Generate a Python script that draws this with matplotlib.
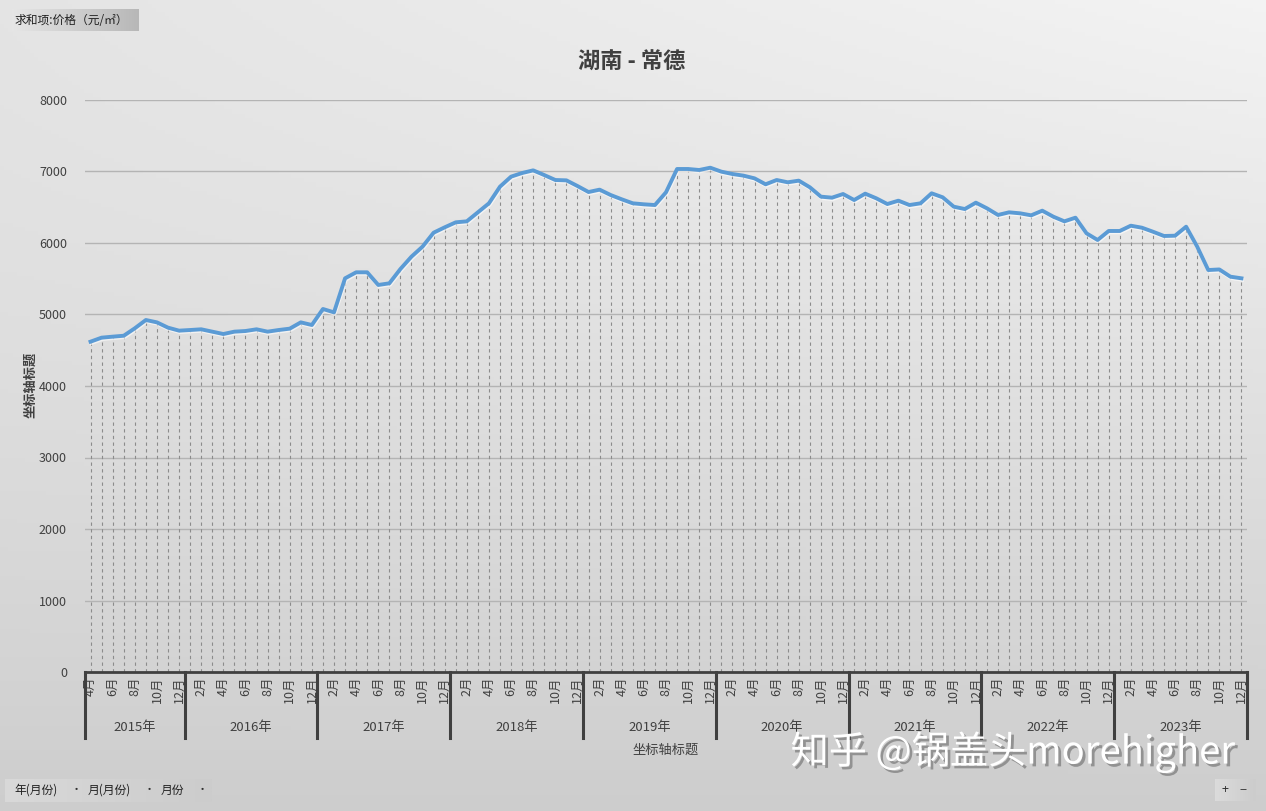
import numpy as np
import matplotlib
matplotlib.use("Agg")
import matplotlib.pyplot as plt
import matplotlib.patheffects as pe
from matplotlib.transforms import blended_transform_factory

plt.rcParams['font.family'] = ['Noto Sans CJK SC', 'DejaVu Sans']

# ---------------- data ----------------
years = ["2015年", "2016年", "2017年", "2018年", "2019年", "2020年", "2021年", "2022年", "2023年"]
months_per_year = [9, 12, 12, 12, 12, 12, 12, 12, 12]
first_month = [4, 1, 1, 1, 1, 1, 1, 1, 1]

price_2015 = [4620, 4676, 4690, 4703, 4807, 4923, 4890, 4816, 4774]
price_2016 = [4783, 4793, 4760, 4727, 4760, 4769, 4793, 4760, 4783, 4802, 4890, 4853]
price_2017 = [5077, 5030, 5506, 5590, 5590, 5413, 5436, 5636, 5809, 5949, 6144, 6219]
price_2018 = [6289, 6303, 6429, 6555, 6788, 6928, 6979, 7016, 6950, 6881, 6876, 6797]
price_2019 = [6713, 6746, 6671, 6611, 6555, 6541, 6531, 6709, 7035, 7035, 7021, 7053]
price_2020 = [6998, 6965, 6942, 6904, 6821, 6881, 6849, 6872, 6779, 6648, 6634, 6685]
price_2021 = [6601, 6690, 6625, 6545, 6592, 6531, 6555, 6695, 6639, 6508, 6475, 6564]
price_2022 = [6485, 6392, 6429, 6415, 6387, 6452, 6368, 6303, 6354, 6135, 6042, 6168]
price_2023 = [6168, 6242, 6214, 6158, 6098, 6102, 6228, 5949, 5622, 5630, 5529, 5506]

yticks = [0, 1000, 2000, 3000, 4000, 5000, 6000, 7000, 8000]

prices = (price_2015 + price_2016 + price_2017 + price_2018 + price_2019 +
          price_2020 + price_2021 + price_2022 + price_2023)
month_nums = []
for fm, n in zip(first_month, months_per_year):
    month_nums += list(range(fm, fm + n))
x = np.arange(len(prices))

W, H = 1266, 811
fig = plt.figure(figsize=(W / 100, H / 100), dpi=100)

# ---------------- background gradient ----------------
bg = fig.add_axes([0, 0, 1, 1], zorder=-10)
yy, xx = np.mgrid[0:1:200j, 0:1:300j]
g = 0.955 - 0.15 * yy - 0.06 * (1 - xx) * (1 - yy) ** 2
bg.imshow(np.dstack([g, g, g]), aspect='auto', extent=[0, 1, 0, 1], origin='upper')
bg.set_axis_off()

# ---------------- main axes ----------------
L, R, T, B = 85, 1247, 100, 672
ax = fig.add_axes([L / W, 1 - B / H, (R - L) / W, (B - T) / H])
ax.set_facecolor('none')
ax.set_xlim(-0.5, len(prices) - 0.5)
ax.set_ylim(0, 8000)
for s in ['top', 'right', 'left']:
    ax.spines[s].set_visible(False)
ax.spines['bottom'].set_color('#404040')
ax.spines['bottom'].set_linewidth(2)
ax.spines['bottom'].set_zorder(5)

ax.set_yticks(yticks)
ax.set_yticklabels([str(v) for v in yticks], fontsize=9, color='#404040')
ax.tick_params(axis='y', length=0, pad=13)
ax.yaxis.grid(True, color='#b4b4b4', linewidth=1)
ax.set_axisbelow(True)

# drop lines
ax.vlines(x, 0, prices, colors='#8c8c8c', linewidth=0.8, linestyles=(0, (3, 3)), zorder=2)
# main line
ax.plot(x, prices, color='#5B9BD5', linewidth=2.8, solid_joinstyle='round', zorder=4,
        path_effects=[pe.SimpleLineShadow(offset=(0.5, -1), shadow_color='#ffffff', alpha=0.6),
                      pe.Normal()])

# month tick labels (every other month)
shown = [i for i, m in enumerate(month_nums) if m % 2 == 0]
ax.set_xticks(shown)
ax.set_xticklabels([f"{month_nums[i]}月" for i in shown], rotation=90, fontsize=9,
                   color='#404040', va='top', ha='center')
ax.tick_params(axis='x', length=0, pad=3)

# year groups
trans = blended_transform_factory(ax.transData, ax.transAxes)
ax_h = B - T
bounds = np.concatenate([[0], np.cumsum(months_per_year)]) - 0.5
for b in bounds:
    ax.plot([b, b], [0, -(738 - 672) / ax_h], transform=trans, color='#404040',
            linewidth=2.2, clip_on=False, zorder=5)
for i, yname in enumerate(years):
    cx = (bounds[i] + bounds[i + 1]) / 2
    ax.text(cx, -(728 - 672) / ax_h, yname, transform=trans, ha='center', va='center',
            fontsize=9.5, color='#404040')

# axis titles and chart title
fig.text(666 / W, 1 - 750 / H, "坐标轴标题", ha='center', va='center', fontsize=9.5, color='#404040')
fig.text(30 / W, 1 - 385 / H, "坐标轴标题", ha='center', va='center', fontsize=9.5,
         color='#404040', rotation=90, fontweight='bold')
fig.text(632 / W, 1 - 62 / H, "湖南 - 常德", ha='center', va='center', fontsize=16,
         fontweight='bold', color='#404040')

# ---------------- pivot-style field buttons ----------------
def grad_box(x0, y0, x1, y1, c0=0.93, c1=0.72):
    axb = fig.add_axes([x0 / W, 1 - y1 / H, (x1 - x0) / W, (y1 - y0) / H], zorder=-5)
    gg = np.linspace(c0, c1, 100)[None, :].repeat(10, axis=0)
    axb.imshow(np.dstack([gg, gg, gg]), aspect='auto', extent=[0, 1, 0, 1])
    axb.set_axis_off()

grad_box(12, 9, 139, 31, 0.90, 0.72)
fig.text(15 / W, 1 - 20 / H, "求和项:价格（元/㎡）", ha='left', va='center', fontsize=8.5, color='#202020')

grad_box(5, 779, 212, 802, 0.85, 0.80)
fig.text(14 / W, 1 - 790 / H, "年(月份)", ha='left', va='center', fontsize=8.5, color='#202020')
fig.text(88 / W, 1 - 790 / H, "月(月份)", ha='left', va='center', fontsize=8.5, color='#202020')
fig.text(161 / W, 1 - 790 / H, "月份", ha='left', va='center', fontsize=8.5, color='#202020')
for px in [76, 149, 202]:
    fig.text(px / W, 1 - 790 / H, "·", ha='center', va='center', fontsize=8, color='#303030')

grad_box(1215, 779, 1256, 801, 0.86, 0.80)
fig.text(1225 / W, 1 - 790 / H, "+", ha='center', va='center', fontsize=9, color='#303030')
fig.text(1243 / W, 1 - 790 / H, "−", ha='center', va='center', fontsize=9, color='#303030')

# watermark
fig.text(1013 / W, 1 - 752 / H, "知乎 @锅盖头morehigher", ha='center', va='center',
         fontsize=27.5, color='white', fontweight='medium',
         path_effects=[pe.SimplePatchShadow(offset=(2, -2), shadow_rgbFace='#606060', alpha=0.55),
                       pe.Normal()])

fig.savefig("out.png", dpi=100)
